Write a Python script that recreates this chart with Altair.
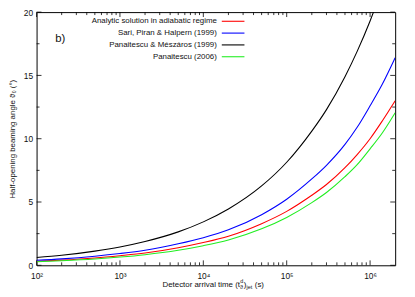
import altair as alt
import pandas as pd

FONT = "Liberation Sans"
W, H = 364, 257

# ---- data ----
t_common = [100, 200, 500, 1e3, 2e3, 5e3, 1e4, 2e4, 5e4, 1e5, 2e5, 3e5, 5e5, 7e5, 1e6, 1.4e6, 2e6]
t_black = [100, 200, 500, 1e3, 2e3, 5e3, 1e4, 2e4, 5e4, 1e5, 2e5, 3e5, 5e5, 7e5, 1e6, 1.4e6]

theta_analytic = [0.32, 0.41, 0.58, 0.76, 0.97, 1.39, 1.80, 2.30, 3.29, 4.26, 5.53, 6.38, 7.71, 8.75, 10.0, 11.4, 13.0]
theta_spd = [0.40, 0.51, 0.72, 0.93, 1.19, 1.70, 2.18, 2.80, 4.00, 5.22, 6.82, 7.90, 9.55, 10.9, 12.6, 14.3, 16.4]
theta_pm = [0.61, 0.79, 1.12, 1.45, 1.88, 2.64, 3.43, 4.45, 6.27, 8.14, 10.6, 12.3, 14.9, 16.9, 19.3, 21.9]
theta_p06 = [0.28, 0.36, 0.50, 0.65, 0.84, 1.19, 1.55, 2.00, 2.88, 3.78, 4.95, 5.75, 7.0, 7.95, 9.2, 10.45, 12.05]

names = [
    "Analytic solution in adiabatic regime",
    "Sari, Piran & Halpern (1999)",
    "Panaitescu & Mészáros (1999)",
    "Panaitescu (2006)",
]
colors = ["#ff0000", "#0000ff", "#000000", "#22ee22"]

x_major = [1e2, 1e3, 1e4, 1e5, 1e6]
x_minor = [m * d for d in [1e2, 1e3, 1e4, 1e5, 1e6] for m in range(2, 10) if m * d < 2e6]
y_major = [0, 5, 10, 15, 20]
y_minor = [2.5, 7.5, 12.5, 17.5]

# ---- tables ----
rows = []
for name, ts, vs in [
    (names[0], t_common, theta_analytic),
    (names[1], t_common, theta_spd),
    (names[2], t_black, theta_pm),
    (names[3], t_common, theta_p06),
]:
    for a, b in zip(ts, vs):
        rows.append({"series": name, "t": a, "theta": b})
df = pd.DataFrame(rows)
leg_df = pd.DataFrame({"series": names, "row": list(range(len(names)))})

xscale = alt.Scale(type="log", domain=[100, 2e6], nice=False)
yscale = alt.Scale(domain=[0, 20], nice=False, zero=False)
cscale = alt.Scale(domain=names, range=colors)

label_expr = ("'10' + ['⁰','¹','²','³','⁴','⁵','⁶','⁷'][round(log(datum.value)/LN10)]")

curves = alt.Chart(df).mark_line(clip=True, strokeWidth=1.1, interpolate="monotone").encode(
    x=alt.X("t:Q", scale=xscale, axis=alt.Axis(
        values=x_major, labelExpr=label_expr, ticks=False, domain=False, grid=False,
        labelPadding=6, labelFontSize=8.5, labelFont=FONT, labelColor="#111", title=None,
        labelOverlap=False, labelFlush=False)),
    y=alt.Y("theta:Q", scale=yscale, axis=alt.Axis(
        values=y_major, ticks=False, domain=False, grid=False, labelPadding=4,
        labelFontSize=8.5, labelFont=FONT, labelColor="#111",
        title="Half-opening beaming angle ϑ₀ (°)", titleFont=FONT, titleFontSize=8,
        titleFontWeight="normal", titleColor="#111", titleAngle=270, titleAlign="center",
        titleBaseline="middle", titleX=-24, titleY=H / 2)),
    color=alt.Color("series:N", scale=cscale, legend=None),
)


def xticks(vals, length, top):
    d = pd.DataFrame({"t": vals})
    if top:
        yy = dict(y=alt.value(0), y2=alt.value(length))
    else:
        yy = dict(y=alt.value(H), y2=alt.value(H - length))
    return alt.Chart(d).mark_rule(color="black", strokeWidth=0.8).encode(
        x=alt.X("t:Q", scale=xscale, axis=None), **yy)


def yticks(vals, length, right):
    d = pd.DataFrame({"v": vals})
    if right:
        xx = dict(x=alt.value(W), x2=alt.value(W - length))
    else:
        xx = dict(x=alt.value(0), x2=alt.value(length))
    return alt.Chart(d).mark_rule(color="black", strokeWidth=0.8).encode(
        y=alt.Y("v:Q", scale=yscale, axis=None), **xx)


ticks = [
    xticks(x_major, 5, False), xticks(x_major, 5, True),
    xticks(x_minor, 3, False), xticks(x_minor, 3, True),
    yticks(y_major, 5, False), yticks(y_major, 5, True),
    yticks(y_minor, 3, False), yticks(y_minor, 3, True),
]

leg_y = alt.Y("row:Q", scale=alt.Scale(domain=[0, 3], range=[9.3, 45.3]), axis=None)
leg_text = alt.Chart(leg_df).mark_text(
    align="right", baseline="middle", fontSize=8, font=FONT, color="#111").encode(
    x=alt.value(183), y=leg_y, text="series:N")
leg_lines = alt.Chart(leg_df).mark_rule(strokeWidth=1.1).encode(
    x=alt.value(188), x2=alt.value(211), y=leg_y,
    color=alt.Color("series:N", scale=cscale, legend=None))

panel = alt.Chart(pd.DataFrame({"s": ["b)"]})).mark_text(
    align="left", baseline="alphabetic", fontSize=11.5, font=FONT, color="#111").encode(
    x=alt.value(19), y=alt.value(30), text="s:N")

# x-axis title pieces: Detector arrival time (t^d_ϑ)_jet (s)
tp = pd.DataFrame({"s": ["x"]})


def piece(txt, x, y, size, align="left"):
    return alt.Chart(tp).mark_text(
        text=txt, align=align, baseline="alphabetic", fontSize=size, font=FONT, color="#111"
    ).encode(x=alt.value(x), y=alt.value(y))


xt = [
    piece("Detector arrival time (t", 206.5, 279, 8, "right"),
    piece("d", 206.8, 275, 5.5),
    piece("ϑ", 206.5, 281.5, 5.5),
    piece(")", 210.3, 279, 8),
    piece("jet", 213.2, 281.5, 5.5),
    piece("(s)", 221.5, 279, 8),
]

chart = alt.layer(curves, *ticks, leg_text, leg_lines, panel, *xt).resolve_scale(
    x="independent", y="independent"
).resolve_axis(x="independent", y="independent").properties(
    width=W, height=H,
    padding={"left": 29, "top": 2, "right": 12, "bottom": 30},
    autosize=alt.AutoSizeParams(type="none"),
).configure_view(stroke="black", strokeWidth=1)

chart.save("out.html", embed_options={"renderer": "svg", "actions": False})
